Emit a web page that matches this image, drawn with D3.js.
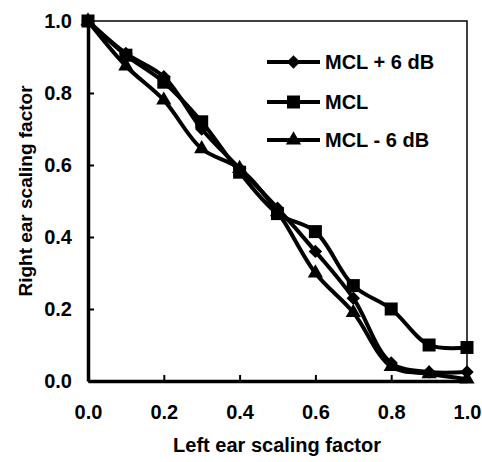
<!DOCTYPE html>
<html>
<head>
<meta charset="utf-8">
<script src="https://cdn.jsdelivr.net/npm/d3@7"></script>
<style>
  body { margin: 0; background: #fff; }
  text { font-family: "Liberation Sans", Arial, sans-serif; font-weight: bold; fill: #000; }
</style>
</head>
<body>
<script>
// data
var leftScale = [0, 0.1, 0.2, 0.3, 0.4, 0.5, 0.6, 0.7, 0.8, 0.9, 1.0];
var mclPlus6 = [1.0, 0.91, 0.845, 0.70, 0.59, 0.48, 0.36, 0.23, 0.05, 0.025, 0.025];
var mcl = [1.0, 0.905, 0.83, 0.72, 0.58, 0.465, 0.415, 0.265, 0.20, 0.10, 0.093];
var mclMinus6 = [1.0, 0.875, 0.78, 0.645, 0.59, 0.47, 0.30, 0.19, 0.04, 0.02, 0.005];
var seriesNames = ["MCL + 6 dB", "MCL", "MCL - 6 dB"];
var tickVals = [0, 0.2, 0.4, 0.6, 0.8, 1.0];

var svg = d3.select("body").append("svg")
  .attr("width", 482)
  .attr("height", 462);

// scales
var x = d3.scaleLinear().domain([0, 1]).range([88, 467]);
var y = d3.scaleLinear().domain([0, 1]).range([381, 21]);

// frame top + right (thin)
svg.append("path")
  .attr("d", "M" + x(0) + "," + y(1) + "H" + x(1) + "V" + y(0))
  .attr("fill", "none")
  .attr("stroke", "#000")
  .attr("stroke-width", 1.5);

// Y axis (ticks point inward)
var yAxis = svg.append("g")
  .attr("transform", "translate(" + x(0) + ",0)")
  .call(d3.axisLeft(y).tickValues(tickVals).tickFormat(d3.format(".1f"))
    .tickSizeInner(-6).tickSizeOuter(0).tickPadding(16));

// X axis
var xAxis = svg.append("g")
  .attr("transform", "translate(0," + y(0) + ")")
  .call(d3.axisBottom(x).tickValues(tickVals).tickFormat(d3.format(".1f"))
    .tickSizeInner(-6).tickSizeOuter(0).tickPadding(24));

[yAxis, xAxis].forEach(function (g) {
  g.select(".domain").attr("stroke-width", 3.5);
  g.selectAll(".tick line").attr("stroke-width", 2);
  g.selectAll(".tick text").style("font-size", "20px");
});

// axis titles
svg.append("text")
  .attr("x", 277).attr("y", 452)
  .attr("text-anchor", "middle")
  .style("font-size", "20px")
  .text("Left ear scaling factor");

svg.append("text")
  .attr("transform", "translate(32,191) rotate(-90)")
  .attr("text-anchor", "middle")
  .style("font-size", "19px")
  .text("Right ear scaling factor");

// series
var series = [mclPlus6, mcl, mclMinus6];
var shapes = [d3.symbolDiamond2, d3.symbolSquare, d3.symbolTriangle];
var sizes = [115, 169, 100];

var line = d3.line()
  .x(function (d, i) { return x(leftScale[i]); })
  .y(function (d) { return y(d); })
  .curve(d3.curveCatmullRom.alpha(0.5));

series.forEach(function (vals, s) {
  svg.append("path")
    .datum(vals)
    .attr("d", line)
    .attr("fill", "none")
    .attr("stroke", "#000")
    .attr("stroke-width", 4)
    .attr("stroke-linejoin", "round");

  svg.append("g")
    .selectAll("path")
    .data(vals)
    .enter()
    .append("path")
    .attr("transform", function (d, i) { return "translate(" + x(leftScale[i]) + "," + y(d) + ")"; })
    .attr("d", d3.symbol().type(shapes[s]).size(sizes[s]))
    .attr("fill", "#000");
});

// legend
var legendY = [62, 102, 140];
seriesNames.forEach(function (name, s) {
  var g = svg.append("g").attr("transform", "translate(0," + legendY[s] + ")");
  g.append("line")
    .attr("x1", 267).attr("x2", 320)
    .attr("stroke", "#000").attr("stroke-width", 4);
  g.append("path")
    .attr("transform", "translate(293.5,0)")
    .attr("d", d3.symbol().type(shapes[s]).size(sizes[s]))
    .attr("fill", "#000");
  g.append("text")
    .attr("x", 325).attr("dy", "0.36em")
    .style("font-size", "20px")
    .text(name);
});
</script>
</body>
</html>
